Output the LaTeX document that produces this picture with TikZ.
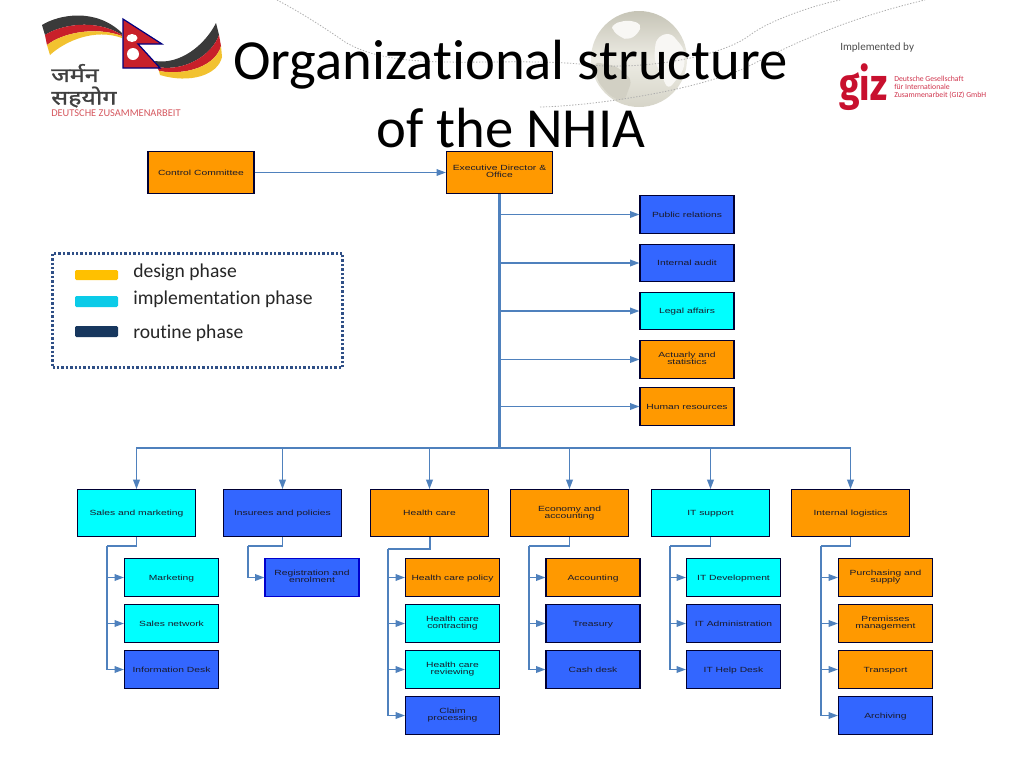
\documentclass[tikz,border=0pt]{standalone}
\usepackage{fontspec}
\usetikzlibrary{arrows.meta,calc}
\setmainfont{Carlito}[Ligatures=NoCommon]
\newfontfamily\boxfont[FakeStretch=1.38]{Liberation Sans}
\newfontfamily\devfont[Script=Devanagari,FakeBold=1.2,FakeStretch=1.25]{Noto Sans}
\newfontfamily\gizfont[FakeStretch=0.82]{Fira Sans}
\definecolor{cOrange}{HTML}{FF9900}
\definecolor{cCyan}{HTML}{00FFFF}
\definecolor{cBlue}{HTML}{3366FF}
\definecolor{cLine}{HTML}{4F81BD}
\definecolor{cText}{HTML}{1A1A2A}
\definecolor{cDot}{HTML}{2F4F86}
\definecolor{cRed}{HTML}{C8102E}
\definecolor{cBlk}{HTML}{3A3A3A}
\definecolor{cFlagR}{HTML}{C8202A}
\definecolor{cFlagY}{HTML}{F2C230}
\definecolor{gTop}{HTML}{C6C4B6}
\definecolor{gMid}{HTML}{EDECE4}
\definecolor{gBot}{HTML}{D6D4C8}
\tikzset{
  x=0.75pt,y=-0.75pt,
  box/.style={draw=black!80!blue,line width=0.9pt,inner sep=0pt,align=center,text=cText,
    font=\boxfont\fontsize{5.6}{5.5}\selectfont,
    execute at begin node={\rule{0pt}{5.5pt}},
    execute at end node={\rule[-1.5pt]{0pt}{1.5pt}}},
  top/.style={box,minimum width=88pt,minimum height=35pt},
  side/.style={box,minimum width=70.5pt,minimum height=28pt},
  head/.style={box,minimum width=79.5pt,minimum height=31pt},
  org/.style={fill=cOrange},
  cya/.style={fill=cCyan},
  blu/.style={fill=cBlue},
  arrowline/.style={draw=cLine,line width=1pt,-{Triangle[length=7pt,width=5pt,fill=cLine]}},
  plainline/.style={draw=cLine,line width=1.2pt},
  title/.style={font=\fontsize{42.5}{50}\selectfont,text=black,inner sep=0pt,anchor=base},
  legendtxt/.style={font=\fontsize{14.7}{17}\selectfont,text=black!85,inner sep=0pt,anchor=west},
  swatch/.style={rounded corners=1pt,draw=none},
  trail/.style={draw=black!32,line width=0.6pt,dash pattern=on 1pt off 1.2pt},
}
\begin{document}
\begin{tikzpicture}
\useasboundingbox (0,0) rectangle (1024,768);
\fill[white] (0,0) rectangle (1024,768);

% faint background: globe and trails
\shade[top color=gTop,bottom color=gBot,middle color=gMid] (639,59) circle[radius=48];
\fill[gMid!40!white,rounded corners=4pt] (612,24) -- (628,20) -- (642,24) -- (638,34) -- (628,40) -- (620,37) -- (612,30) -- cycle;
\fill[gMid!40!white,rounded corners=5pt] (656,38) -- (670,32) -- (685,50) -- (684,70) -- (668,90) -- (662,76) -- (654,60) -- cycle;
\fill[gTop!70!gMid,rounded corners=4pt] (594,62) -- (616,66) -- (632,80) -- (624,102) -- (610,96) -- (598,82) -- cycle;
\draw[trail] (540,107) .. controls (590,106) and (690,92) .. (745,68) .. controls (785,48) and (840,20) .. (925,0);
\draw[trail] (277,0) .. controls (300,12) and (325,28) .. (345,42) .. controls (400,75) and (500,55) .. (590,65) .. controls (640,70) and (720,58) .. (750,35) .. controls (770,20) and (815,5) .. (840,0);

% German-Nepali logo
\fill[cBlk] (42,25) .. controls (58,15) and (95,7) .. (122,33) -- (122,35) .. controls (95,18) and (60,25) .. (45,35) -- cycle;
\fill[cFlagR] (45,35) .. controls (60,25) and (95,18) .. (122,35) -- (122,36) .. controls (95,26) and (62,33) .. (47,45) -- cycle;
\fill[cFlagY] (47,45) .. controls (62,33) and (95,26) .. (122,36) -- (122,38) .. controls (95,28) and (65,41) .. (50,55) -- cycle;
\fill[cBlk] (155,61) .. controls (180,65) and (205,45) .. (216,23) -- (219,35) .. controls (212,55) and (185,72) .. (157,67) -- cycle;
\fill[cFlagR] (157,67) .. controls (185,72) and (212,55) .. (219,35) -- (221,46) .. controls (216,65) and (188,76) .. (159,71) -- cycle;
\fill[cFlagY] (159,71) .. controls (188,76) and (216,65) .. (221,46) -- (222,57) .. controls (218,75) and (190,84) .. (160,75) -- cycle;
\fill[cFlagR,draw=blue!50!black,line width=0.9pt] (123,19) -- (162,44) -- (138,44) -- (160,68) -- (123,68) -- cycle;
\fill[white] (132,38) ellipse[x radius=5.5,y radius=4];
\fill[white] (133,54) circle[radius=6];
\node[font=\devfont\fontsize{15}{16}\selectfont,text=black!75,inner sep=0pt,anchor=west] (dev1) at (51,73) {जर्मन};
\node[font=\devfont\fontsize{15}{16}\selectfont,text=black!75,inner sep=0pt,anchor=west] (dev2) at (51,97) {सहयोग};
\node[font=\fontsize{7.8}{9}\selectfont,text=cFlagR!75!white,inner sep=0pt,anchor=west] (dz) at (51,113) {DEUTSCHE ZUSAMMENARBEIT};

% GIZ logo
\node[font=\fontsize{8.3}{10}\selectfont,text=black!70,inner sep=0pt,anchor=west] (impl) at (840,48) {Implemented by};
\node[font=\gizfont\bfseries\fontsize{34}{34}\selectfont,text=cRed,inner sep=0pt,anchor=west] (giz) at (839,87) {giz};
\node[font=\fontsize{5.8}{6}\selectfont,text=cRed!85,inner sep=0pt,anchor=west,align=left] (gizt) at (894,87) {Deutsche Gesellschaft\\für Internationale\\Zusammenarbeit (GIZ) GmbH};

% title
\node[title] (t1) at (510.5,79) {Organizational structure};
\node[title] (t2) at (511,147) {of the NHIA};

% legend
\node[draw=cDot,line width=2.1pt,dash pattern=on 1.8pt off 1.5pt,minimum width=217.5pt,minimum height=86pt,inner sep=0pt] (legend) at (197.5,310.5) {};
\definecolor{sY}{HTML}{FFC000}\definecolor{sC}{HTML}{0BCBE8}\definecolor{sN}{HTML}{17375E}
\fill[swatch,fill=sY] (75,270) rectangle (118,280);
\fill[swatch,fill=sC] (75,296) rectangle (118,307);
\fill[swatch,fill=sN] (75,326) rectangle (118,337);
\node[legendtxt] (l1) at (133,272) {design phase};
\node[legendtxt] (l2) at (133,299) {implementation phase};
\node[legendtxt] (l3) at (133,333) {routine phase};

% top row
\node[head,org] (cc) at (201,172.5) {Control Committee};
\node[head,org] (ed) at (499.5,172.5) {Executive Director \&\\Office};

% side boxes
\node[side,blu] (pr) at (687,214.5) {Public relations};
\node[side,blu] (ia) at (687,263) {Internal audit};
\node[side,cya] (la) at (687,311) {Legal affairs};
\node[side,org] (ac) at (687,359.5) {Actuarly and\\statistics};
\node[side,org] (hr) at (687,406.5) {Human resources};

% department row
\node[top,cya] (d1) at (136.5,513) {Sales and marketing};
\node[top,blu] (d2) at (282.5,513) {Insurees and policies};
\node[top,org] (d3) at (429.5,513) {Health care};
\node[top,org] (d4) at (569.5,513) {Economy and\\accounting};
\node[top,cya] (d5) at (710.5,513) {IT support};
\node[top,org] (d6) at (850.5,513) {Internal logistics};

% column 1
\node[side,cya] (a1) at (171.5,577.5) {Marketing};
\node[side,cya] (a2) at (171.5,623.5) {Sales network};
\node[side,blu] (a3) at (171.5,669.5) {Information Desk};
% column 2
\node[side,blu,draw=blue!80!black] (b1) at (312,577.5) {Registration and\\enrolment};
% column 3
\node[side,org] (c1) at (452.5,577.5) {Health care policy};
\node[side,cya] (c2) at (452.5,623.5) {Health care\\contracting};
\node[side,cya] (c3) at (452.5,669.5) {Health care\\reviewing};
\node[side,blu] (c4) at (452.5,715.5) {Claim\\processing};
% column 4
\node[side,org] (e1) at (593,577.5) {Accounting};
\node[side,blu] (e2) at (593,623.5) {Treasury};
\node[side,blu] (e3) at (593,669.5) {Cash desk};
% column 5
\node[side,cya] (f1) at (733.5,577.5) {IT Development};
\node[side,blu] (f2) at (733.5,623.5) {IT Administration};
\node[side,blu] (f3) at (733.5,669.5) {IT Help Desk};
% column 6
\node[side,org] (g1) at (885.5,577.5) {Purchasing and\\supply};
\node[side,org] (g2) at (885.5,623.5) {Premisses\\management};
\node[side,org] (g3) at (885.5,669.5) {Transport};
\node[side,blu] (g4) at (885.5,715.5) {Archiving};

% connectors: director
\draw[arrowline] (cc) -- (ed);
\coordinate (trunkend) at (499.5,448);
\draw[draw=cLine,line width=2.3pt] (ed.south) -- (trunkend);
\foreach \n in {pr,ia,la,ac,hr}
  \draw[arrowline] (trunkend |- \n.west) -- (\n.west);
\foreach \n in {d1,d2,d3,d4,d5,d6}
  \draw[arrowline] (trunkend) -| (\n.north);

% connectors: departments to units
\coordinate (s1) at (107,546);
\coordinate (s2) at (248,546);
\coordinate (s3) at (388,549);
\coordinate (s4) at (529,546);
\coordinate (s5) at (670,546);
\coordinate (s6) at (821,546);
\draw[plainline] (d1.south) |- (s1);
\draw[plainline,line width=0.9pt] (d2.south) |- (s2);
\draw[plainline,line width=1.5pt] (d3.south) |- (s3);
\draw[plainline] (d4.south) |- (s4);
\draw[plainline] (d5.south) |- (s5);
\draw[plainline] (d6.south) |- (s6);
\foreach \n in {a1,a2,a3} \draw[arrowline] (s1) |- (\n.west);
\draw[arrowline] (s2) |- (b1.west);
\foreach \n in {c1,c2,c3,c4} \draw[arrowline] (s3) |- (\n.west);
\foreach \n in {e1,e2,e3} \draw[arrowline] (s4) |- (\n.west);
\foreach \n in {f1,f2,f3} \draw[arrowline] (s5) |- (\n.west);
\foreach \n in {g1,g2,g3,g4} \draw[arrowline] (s6) |- (\n.west);
\end{tikzpicture}
\end{document}
